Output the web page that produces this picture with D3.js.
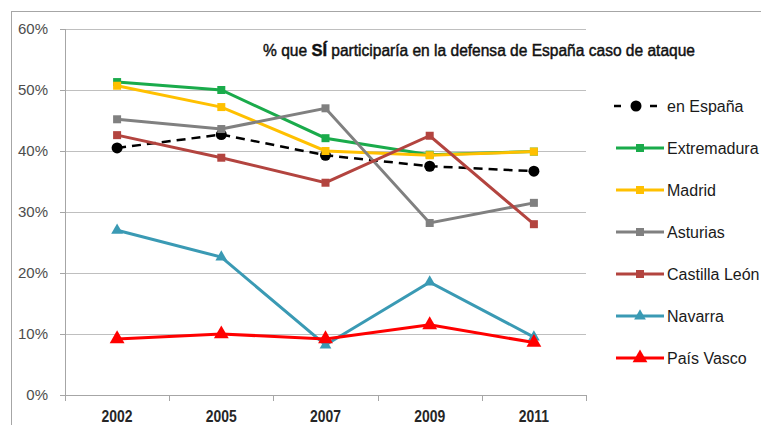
<!DOCTYPE html>
<html>
<head>
<meta charset="utf-8">
<script src="https://cdn.jsdelivr.net/npm/d3@7"></script>
<style>
  body { margin: 0; background: #fff; }
  svg text { font-family: "Liberation Sans", Arial, sans-serif; }
</style>
</head>
<body>
<svg class="chart" width="761" height="425"></svg>
<script>
// data
let years = ["2002", "2005", "2007", "2009", "2011"];
let seriesNames = ["en España", "Extremadura", "Madrid", "Asturias", "Castilla León", "Navarra", "País Vasco"];
let espana      = [40.5, 42.7, 39.3, 37.5, 36.7];
let extremadura = [51.3, 50.0, 42.1, 39.4, 39.9];
let madrid      = [50.7, 47.2, 40.0, 39.3, 39.9];
let asturias    = [45.2, 43.6, 47.0, 28.2, 31.5];
let castilla    = [42.6, 38.9, 34.8, 42.5, 28.0];
let navarra     = [27.0, 22.6, 8.2, 18.5, 9.5];
let paisVasco   = [9.2, 10.0, 9.2, 11.5, 8.6];
let yTicks = [0, 10, 20, 30, 40, 50, 60];

let values = [espana, extremadura, madrid, asturias, castilla, navarra, paisVasco];
let colors = ["#000000", "#1aab4b", "#ffc000", "#808080", "#b3443f", "#3a9ab4", "#ff0000"];
let shapes = ["circle", "square", "square", "square", "square", "triangle", "triangle"];

let margin = {top: 29, left: 65, right: 175, bottom: 30},
    width = 761, height = 425;

let svg = d3.select(".chart");

// outer frame
svg.append("rect")
    .attr("x", 11.5).attr("y", 11.5)
    .attr("width", 800).attr("height", 500)
    .style("fill", "none")
    .style("stroke", "#a6a6a6");

let x = d3.scaleBand().domain(years).range([margin.left, 586]);
let y = d3.scaleLinear().domain([0, 60]).range([395, margin.top]);
let cx = d => x(d) + x.bandwidth() / 2;

let g = svg.append("g");

// gridlines
g.selectAll(".grid")
    .data(yTicks.filter(d => d > 0))
    .join("line")
    .attr("x1", margin.left).attr("x2", 586)
    .attr("y1", d => Math.round(y(d)) + 0.5).attr("y2", d => Math.round(y(d)) + 0.5)
    .style("stroke", "#bfbfbf");

// y axis
g.append("line")
    .attr("x1", margin.left + 0.5).attr("x2", margin.left + 0.5)
    .attr("y1", y(60)).attr("y2", y(0))
    .style("stroke", "#a6a6a6");
g.selectAll(".ytick")
    .data(yTicks)
    .join("line")
    .attr("x1", margin.left - 5).attr("x2", margin.left)
    .attr("y1", d => Math.round(y(d)) + 0.5).attr("y2", d => Math.round(y(d)) + 0.5)
    .style("stroke", "#a6a6a6");
g.selectAll(".ylabel")
    .data(yTicks)
    .join("text")
    .attr("x", 48).attr("y", d => y(d))
    .attr("dy", "0.35em")
    .attr("text-anchor", "end")
    .attr("font-size", 15)
    .style("fill", "#4d4d4d")
    .text(d => d + "%");

// x axis
g.append("line")
    .attr("x1", margin.left).attr("x2", 586)
    .attr("y1", Math.round(y(0)) + 0.5).attr("y2", Math.round(y(0)) + 0.5)
    .style("stroke", "#a6a6a6");
let bounds = years.map(d => x(d)).concat([586]);
g.selectAll(".xtick")
    .data(bounds)
    .join("line")
    .attr("x1", d => Math.round(d) + 0.5).attr("x2", d => Math.round(d) + 0.5)
    .attr("y1", y(0)).attr("y2", y(0) + 6)
    .style("stroke", "#a6a6a6");
g.selectAll(".xlabel")
    .data(years)
    .join("text")
    .attr("transform", d => "translate(" + cx(d) + ",422) scale(0.82,1)")
    .attr("text-anchor", "middle")
    .attr("font-size", 17)
    .attr("font-weight", "bold")
    .style("fill", "#262626")
    .text(d => d);

// title
let title = svg.append("text")
    .attr("x", 263).attr("y", 56)
    .attr("font-size", 16)
    .attr("textLength", 432)
    .attr("lengthAdjust", "spacingAndGlyphs")
    .style("fill", "#111")
    .style("stroke", "#111")
    .style("stroke-width", 0.45);
title.append("tspan").text("% que ");
title.append("tspan").attr("font-weight", "bold").attr("font-size", 17).text("SÍ");
title.append("tspan").text(" participaría en la defensa de España caso de ataque");

function drawMarker(sel, shape, color, px, py) {
    if (shape == "circle") {
        sel.append("circle").attr("cx", px).attr("cy", py).attr("r", 5.5).style("fill", color);
    } else if (shape == "square") {
        sel.append("rect").attr("x", px - 4).attr("y", py - 4).attr("width", 8).attr("height", 8).style("fill", color);
    } else {
        sel.append("path")
            .attr("d", d3.symbol().type(d3.symbolTriangle).size(color == "#ff0000" ? 95 : 60)())
            .attr("transform", "translate(" + px + "," + py + ")")
            .style("fill", color);
    }
}

let line = d3.line().x((d, i) => cx(years[i])).y(d => y(d));

values.forEach(function(vals, k) {
    let s = svg.append("g").attr("class", "series");
    s.append("path")
        .attr("d", line(vals))
        .style("fill", "none")
        .style("stroke", colors[k])
        .style("stroke-width", k == 0 ? 2.5 : 3)
        .style("stroke-dasharray", k == 0 ? "9,6" : null);
    vals.forEach((v, i) => drawMarker(s, shapes[k], colors[k], cx(years[i]), y(v)));
});

// legend
let legend = svg.append("g");
seriesNames.forEach(function(name, k) {
    let ly = 106 + k * 42;
    let item = legend.append("g");
    item.append("line")
        .attr("x1", k == 0 ? 614 : 616).attr("x2", k == 0 ? 657 : 664)
        .attr("y1", ly).attr("y2", ly)
        .style("stroke", colors[k])
        .style("stroke-width", k == 0 ? 2.5 : 3)
        .style("stroke-dasharray", k == 0 ? "7,29,7" : null);
    drawMarker(item, shapes[k], colors[k], k == 0 ? 636 : 640, ly);
    item.append("text")
        .attr("x", 667).attr("y", ly)
        .attr("dy", "0.35em")
        .attr("font-size", 16)
        .style("fill", "#1a1a1a")
        .text(name);
});
</script>
</body>
</html>
